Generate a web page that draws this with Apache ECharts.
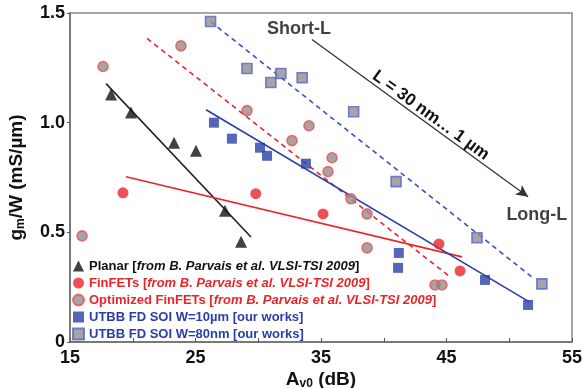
<!DOCTYPE html>
<html>
<head>
<meta charset="utf-8">
<script src="https://cdn.jsdelivr.net/npm/echarts@6/dist/echarts.min.js"></script>
<style>
  html, body { margin: 0; padding: 0; background: #fff; }
  #chart { width: 582px; height: 388px; }
</style>
</head>
<body>
<div id="chart"></div>
<script>
// Measured points: [Av0 (dB), gm/W (mS/um)]
const planar = [[18.27, 1.128], [19.86, 1.046], [23.29, 0.909], [25.04, 0.872], [27.35, 0.598], [28.63, 0.457]];
const finfet = [[19.22, 0.680], [29.80, 0.676], [35.16, 0.584], [44.40, 0.447], [46.08, 0.324]];
const optFinfet = [[15.96, 0.484], [17.63, 1.256], [23.84, 1.350], [29.10, 1.055], [32.69, 0.918], [34.04, 0.986],
                   [35.88, 0.840], [35.56, 0.777], [37.39, 0.653], [38.67, 0.584], [38.67, 0.429], [44.08, 0.260], [44.64, 0.260]];
const utbb10um = [[26.47, 1.000], [27.90, 0.927], [30.14, 0.886], [30.70, 0.849], [33.80, 0.813],
                  [41.20, 0.406], [41.14, 0.338], [48.07, 0.283], [51.50, 0.169]];
const utbb80nm = [[26.20, 1.461], [29.10, 1.247], [31.00, 1.183], [31.80, 1.224], [33.50, 1.205],
                  [37.60, 1.050], [40.98, 0.731], [47.43, 0.475], [52.60, 0.265]];

// Trend lines (end points)
const planarFit = [[17.87, 1.178], [29.42, 0.479]];
const finfetFit = [[19.46, 0.753], [46.24, 0.388]];
const optFinfetFit = [[21.14, 1.384], [45.28, 0.297]];
const utbb10umFit = [[25.84, 1.059], [51.60, 0.183]];
const utbb80nmFit = [[26.20, 1.461], [51.90, 0.292]];

// Channel-length arrow and its annotations
const lengthArrow = [[34.28, 1.379], [51.50, 0.662]];
const notes = [[33.25, 1.425, 'Short-L'], [52.20, 0.580, 'Long-L']];
const arrowText = 'L = 30 nm\u2026 1 \u00b5m';

// Axis tick labels
const xTickLabels = ['15', '25', '35', '45', '55'];
const yTickLabels = ['0', '0.5', '1.0', '1.5'];

// Legend entries
const seriesNames = ['Planar', 'FinFETs', 'Optimized FinFETs', 'UTBB FD SOI W=10\u00b5m', 'UTBB FD SOI W=80nm'];
const seriesRefs = ['from B. Parvais et al. VLSI-TSI 2009', 'from B. Parvais et al. VLSI-TSI 2009',
                    'from B. Parvais et al. VLSI-TSI 2009', 'our works', 'our works'];
const refItalic = [true, true, true, false, false];

const RED = '#e8262a';
const BLUE = '#2b3ea8';
const BLACK = '#111111';
const GRAY = '#8e8e8e';
const FONT = '"Liberation Sans", Arial, sans-serif';

const legendTone = ['k', 'r', 'r', 'b', 'b'];
const toneColor = { k: BLACK, r: RED, b: BLUE };

const rich = {};
Object.keys(toneColor).forEach(function (t) {
  rich['n' + t] = { color: toneColor[t], fontWeight: 'bold', fontSize: 13, fontFamily: FONT };
  rich['i' + t] = { color: toneColor[t], fontWeight: 'bold', fontStyle: 'italic', fontSize: 13, fontFamily: FONT };
});

function fitLine(data, color, dashed) {
  return {
    type: 'line', data: data, symbol: 'none', silent: true, z: 1,
    lineStyle: { color: color, width: 1.6, type: dashed ? [5, 4] : 'solid' }
  };
}

const chart = echarts.init(document.getElementById('chart'));
chart.setOption({
  animation: false,
  backgroundColor: '#ffffff',
  textStyle: { fontFamily: FONT },
  grid: {
    left: 70, right: 10, top: 13, bottom: 46, outerBoundsMode: 'none',
    show: true, borderColor: '#8a8a8a', borderWidth: 1.5
  },
  xAxis: {
    type: 'value', min: 15, max: 55, interval: 5,
    name: '{a|A}{s|v0}{a| (dB)}', nameLocation: 'middle', nameGap: 28, nameMoveOverlap: false,
    nameTextStyle: {
      rich: {
        a: { fontSize: 19, fontWeight: 'bold', color: BLACK, fontFamily: FONT },
        s: { fontSize: 12, fontWeight: 'bold', color: BLACK, fontFamily: FONT, padding: [8, 0, 0, 0] }
      }
    },
    axisLine: { lineStyle: { color: '#6a6a6a', width: 1.5 } },
    axisTick: { inside: true, length: 4, lineStyle: { color: '#555' } },
    splitLine: { show: false },
    axisLabel: {
      margin: 7, fontSize: 18, fontWeight: 'bold', color: BLACK,
      formatter: function (v) { const s = String(v); return xTickLabels.indexOf(s) >= 0 ? s : ''; }
    }
  },
  yAxis: {
    type: 'value', min: 0, max: 1.5, interval: 0.5,
    name: '{a|g}{s|m}{a|/W (mS/\u00b5m)}', nameLocation: 'middle', nameGap: 43, nameRotate: 90,
    nameTextStyle: {
      rich: {
        a: { fontSize: 19, fontWeight: 'bold', color: BLACK, fontFamily: FONT },
        s: { fontSize: 12, fontWeight: 'bold', color: BLACK, fontFamily: FONT, padding: [8, 0, 0, 0] }
      }
    },
    axisLine: { show: true, lineStyle: { color: '#6a6a6a', width: 1.5 } },
    axisTick: { show: true, inside: false, length: 3, lineStyle: { color: '#555' } },
    splitLine: { show: false },
    axisLabel: {
      margin: 5, fontSize: 18, fontWeight: 'bold', color: BLACK,
      formatter: function (v, i) { return yTickLabels[i]; }
    }
  },
  legend: {
    orient: 'vertical', left: 67, top: 254, itemWidth: 11, itemHeight: 11, itemGap: 3,
    selectedMode: false,
    data: seriesNames,
    formatter: function (name) {
      const i = seriesNames.indexOf(name);
      const t = legendTone[i];
      const refStyle = (refItalic[i] ? 'i' : 'n') + t;
      return '{n' + t + '|' + name + ' [}{' + refStyle + '|' + seriesRefs[i] + '}{n' + t + '|]}';
    },
    textStyle: { rich: rich, lineHeight: 14 }
  },
  series: [
    fitLine(planarFit, '#222', false),
    fitLine(finfetFit, RED, false),
    fitLine(optFinfetFit, RED, true),
    fitLine(utbb10umFit, BLUE, false),
    fitLine(utbb80nmFit, '#3b4fc0', true),
    {
      name: seriesNames[0], type: 'scatter', data: planar, symbol: 'triangle', symbolSize: 12, z: 3,
      itemStyle: { color: BLACK }
    },
    {
      name: seriesNames[1], type: 'scatter', data: finfet, symbol: 'circle', symbolSize: 11, z: 3,
      itemStyle: { color: RED }
    },
    {
      name: seriesNames[2], type: 'scatter', data: optFinfet, symbol: 'circle', symbolSize: 10, z: 3,
      itemStyle: { color: GRAY, borderColor: '#f05050', borderWidth: 1.6 }
    },
    {
      name: seriesNames[3], type: 'scatter', data: utbb10um, symbol: 'rect', symbolSize: 10, z: 3,
      itemStyle: { color: BLUE }
    },
    {
      name: seriesNames[4], type: 'scatter', data: utbb80nm, symbol: 'rect', symbolSize: 10, z: 3,
      itemStyle: { color: GRAY, borderColor: '#5565c8', borderWidth: 1.6 }
    },
    {
      type: 'scatter', data: notes, symbolSize: 0, silent: true, z: 4,
      label: {
        show: true, position: 'inside', fontSize: 18, fontWeight: 'bold', color: BLACK,
        formatter: function (p) { return p.data[2]; }
      },
      markLine: {
        silent: true, symbol: ['none', 'arrow'], symbolSize: [9, 12],
        lineStyle: { color: '#333', width: 1.3, type: 'solid' },
        label: {
          show: true, position: 'insideMiddleTop', distance: 0, formatter: arrowText,
          fontSize: 17, fontWeight: 'bold', color: BLACK, padding: [0, 0, 0, 14]
        },
        data: [[{ coord: lengthArrow[0] }, { coord: lengthArrow[1] }]]
      }
    }
  ]
});
</script>
</body>
</html>
